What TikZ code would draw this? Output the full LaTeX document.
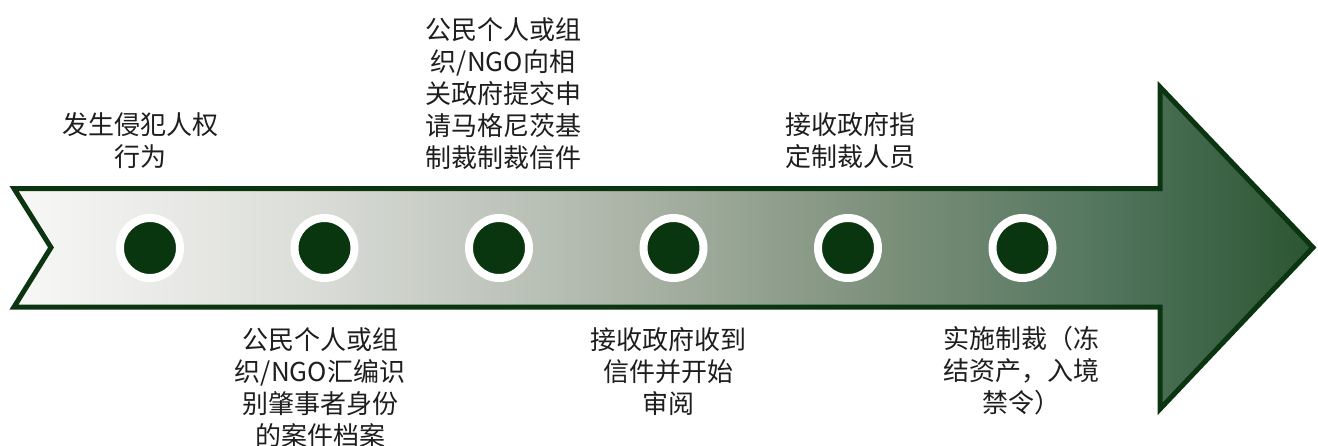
\documentclass[tikz,border=0pt]{standalone}
\usepackage{fontspec}
\newfontfamily\cjk{Noto Sans CJK SC}
\definecolor{edge}{HTML}{0B3510}
\definecolor{dot}{HTML}{0A360F}
\definecolor{txt}{HTML}{1E1E1E}
\definecolor{s0}{HTML}{F8F8F6}
\definecolor{s1}{HTML}{DCDEDA}
\definecolor{s2}{HTML}{B0B8AC}
\definecolor{s3}{HTML}{7A8E78}
\definecolor{s4}{HTML}{557760}
\definecolor{s5}{HTML}{2A5532}
\pgfdeclarehorizontalshading{arrowshade}{100bp}{color(0bp)=(s0); color(25bp)=(s0); color(36bp)=(s1); color(47.5bp)=(s2); color(59bp)=(s3); color(66.5bp)=(s4); color(75bp)=(s5); color(100bp)=(s5)}
\tikzset{
  ring/.style={circle, fill=dot, draw=white, line width=8pt, minimum size=60pt, inner sep=0pt},
  lab/.style={align=center, inner sep=0pt, text=txt, font=\cjk\fontsize{26}{32}\selectfont},
  body/.style={shading=arrowshade, draw=edge, line width=5pt, line join=miter}
}
\begin{document}
\begin{tikzpicture}[x=1pt,y=-1pt]
\useasboundingbox (0,0) rectangle (1318,445);
\shadedraw[body] (14,188.5) -- (1160,188.5) -- (1160,87) -- (1313,247.5) -- (1160,409) -- (1160,307) -- (14,307) -- (51,247.5) -- cycle;
\node[ring] (c1) at (150,248) {};
\node[ring] (c2) at (324.5,248) {};
\node[ring] (c3) at (499,248) {};
\node[ring] (c4) at (673.5,248) {};
\node[ring] (c5) at (848,248) {};
\node[ring] (c6) at (1022.5,248) {};
\node[lab] (t1) at (140,140.5) {发生侵犯人权\\行为};
\node[lab] (t3) at (503,94) {公民个人或组\\织/NGO向相\\关政府提交申\\请马格尼茨基\\制裁制裁信件};
\node[lab] (t5) at (850,140.5) {接收政府指\\定制裁人员};
\node[lab] (t2) at (320,388) {公民个人或组\\织/NGO汇编识\\别肇事者身份\\的案件档案};
\node[lab] (t4) at (668,371) {接收政府收到\\信件并开始\\审阅};
\node[lab] (t6) at (1021,371) {实施制裁（冻\\结资产，入境\\禁令）};
\end{tikzpicture}
\end{document}
